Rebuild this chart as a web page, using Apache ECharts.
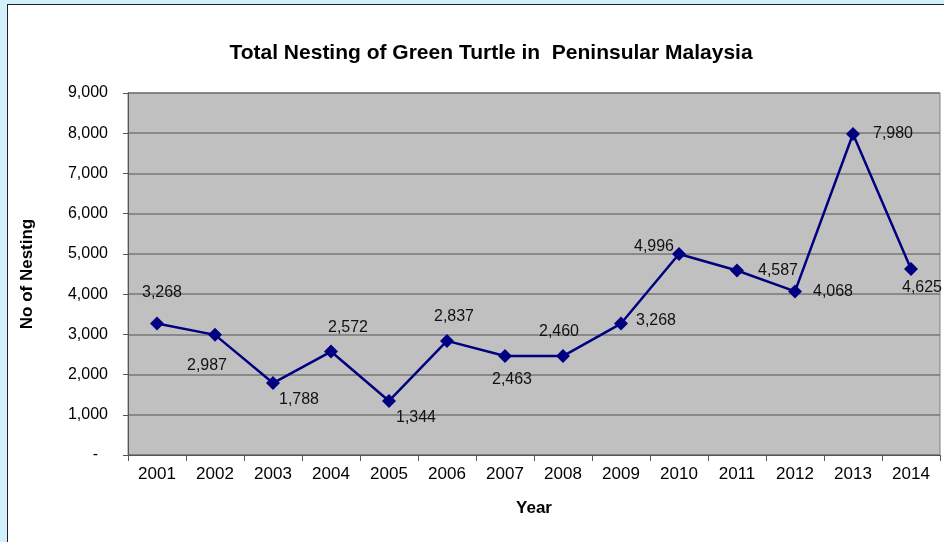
<!DOCTYPE html>
<html>
<head>
<meta charset="utf-8">
<script src="https://cdn.jsdelivr.net/npm/echarts@6/dist/echarts.min.js"></script>
<style>
  html, body { margin: 0; padding: 0; background: #d3effb; }
  #frame { position: absolute; left: 7px; top: 4px; width: 960px; height: 560px;
           background: #ffffff; border-left: 1.5px solid #222; border-top: 1.5px solid #222; }
  #chart { position: absolute; left: 0; top: 0; width: 944px; height: 542px; }
</style>
</head>
<body>
<div id="frame"></div>
<div id="chart"></div>
<script>
// Yearly green turtle nesting counts, Peninsular Malaysia
const years = ['2001', '2002', '2003', '2004', '2005', '2006', '2007',
               '2008', '2009', '2010', '2011', '2012', '2013', '2014'];
const nestings = [3268, 2987, 1788, 2572, 1344, 2837, 2463,
                  2460, 3268, 4996, 4587, 4068, 7980, 4625];
const yTicks = [0, 1000, 2000, 3000, 4000, 5000, 6000, 7000, 8000, 9000];

// where each value label sits relative to its marker (px)
const labelShift = [[5, -31], [-8, 31], [26, 17], [17, -24], [27, 17], [7, -24], [7, 24],
                    [-4, -24], [35, -3], [-25, -7], [41, 0], [38, 0], [40, 0], [11, 19]];

const fmt = v => v.toLocaleString('en-US');
const font = '"Liberation Sans", Arial, sans-serif';

const chart = echarts.init(document.getElementById('chart'), null, { renderer: 'canvas' });
chart.setOption({
  animation: false,
  backgroundColor: 'transparent',
  title: {
    text: 'Total Nesting of Green Turtle in  Peninsular Malaysia',
    left: 486, top: 38, textAlign: 'center',
    textStyle: { fontFamily: font, fontWeight: 'bold', fontSize: 21, color: '#000' }
  },
  grid: {
    left: 128, top: 93, right: 4, bottom: 87,
    show: true, backgroundColor: '#c0c0c0', borderColor: '#808080', borderWidth: 1
  },
  xAxis: {
    type: 'category',
    data: years,
    boundaryGap: true,
    name: 'Year', nameLocation: 'middle', nameGap: 45,
    nameTextStyle: { fontFamily: font, fontWeight: 'bold', fontSize: 17, color: '#000' },
    axisLine: { lineStyle: { color: '#555', width: 1 } },
    axisTick: { show: true, inside: false, length: 6, alignWithLabel: false,
                lineStyle: { color: '#555' } },
    axisLabel: { fontFamily: font, fontSize: 17, color: '#000', margin: 11 },
    splitLine: { show: false }
  },
  yAxis: {
    type: 'value',
    min: yTicks[0], max: yTicks[yTicks.length - 1], interval: yTicks[1] - yTicks[0],
    name: 'No of Nesting', nameLocation: 'middle', nameGap: 92, nameRotate: 90,
    nameTextStyle: { fontFamily: font, fontWeight: 'bold', fontSize: 17, color: '#000' },
    axisLine: { show: true, lineStyle: { color: '#555', width: 1 } },
    axisTick: { show: true, inside: false, length: 5, lineStyle: { color: '#555' } },
    axisLabel: {
      fontFamily: font, fontSize: 16, color: '#000', margin: 20,
      formatter: v => v === 0 ? '{d|-}' : fmt(v),
      rich: { d: { fontFamily: font, fontSize: 16, color: '#000', padding: [0, 10, 0, 0] } }
    },
    splitLine: { show: true, lineStyle: { color: '#777', width: 1.5 } }
  },
  series: [{
    type: 'line',
    data: nestings,
    symbol: 'diamond',
    symbolSize: 14,
    lineStyle: { color: '#000080', width: 2.5 },
    itemStyle: { color: '#000080' },
    label: {
      show: true, position: 'inside',
      fontFamily: font, fontSize: 16, color: '#111',
      formatter: p => fmt(p.value)
    },
    labelLayout: p => ({ dx: labelShift[p.dataIndex][0], dy: labelShift[p.dataIndex][1],
                         hideOverlap: false })
  }]
});
</script>
</body>
</html>
